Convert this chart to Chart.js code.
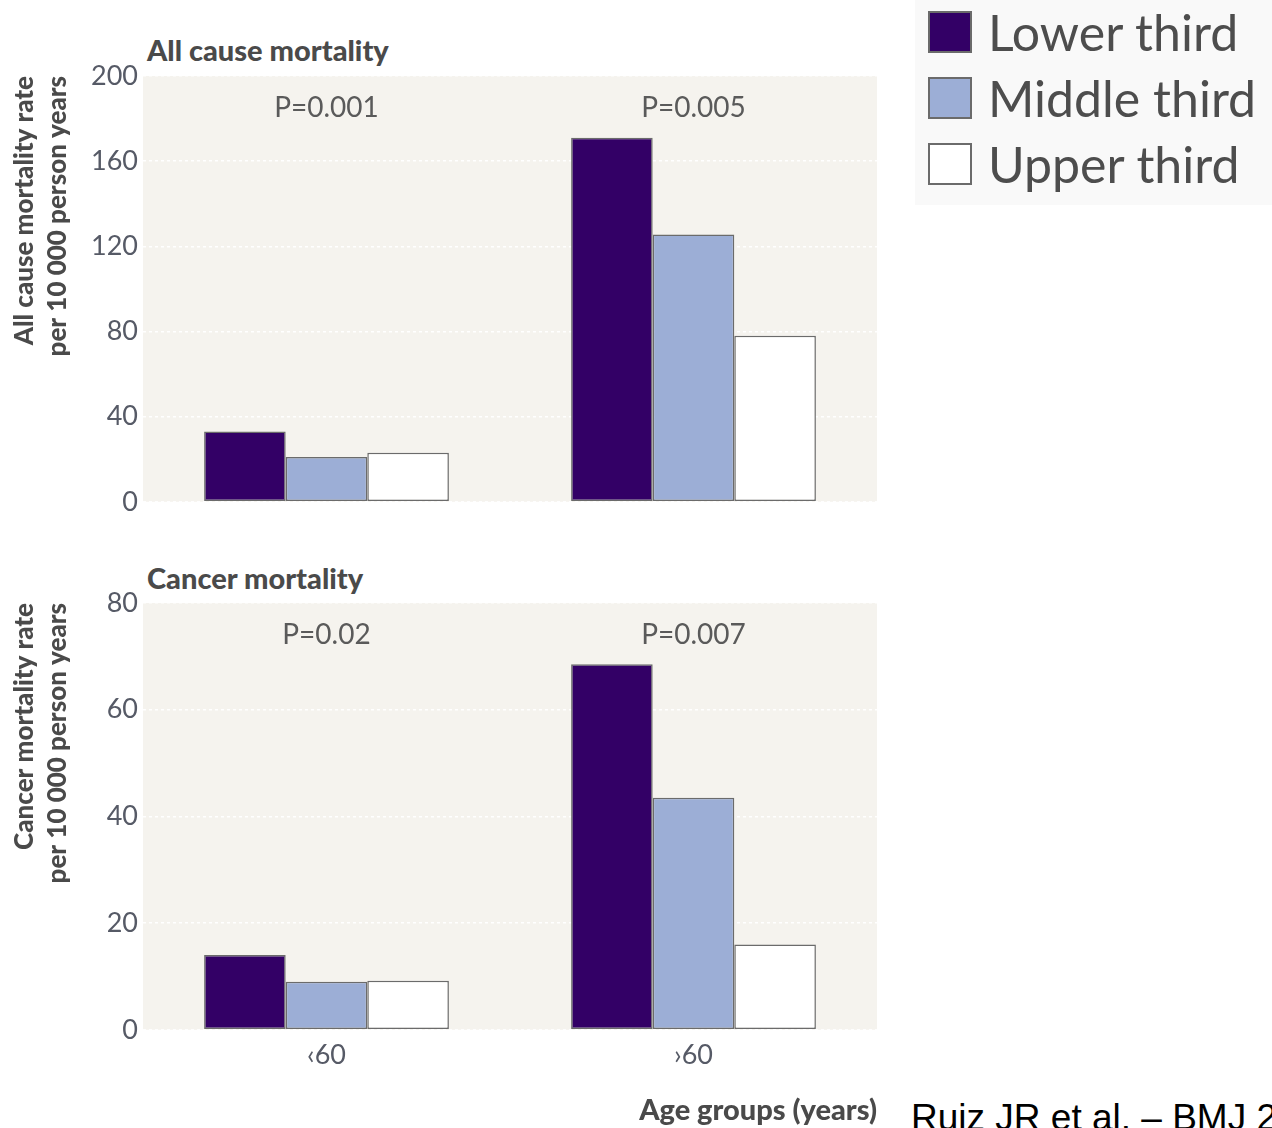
<!DOCTYPE html>
<html>
<head>
<meta charset="utf-8">
<script src="https://cdn.jsdelivr.net/npm/chart.js@4.4.1/dist/chart.umd.min.js"></script>
<style>
  html,body{margin:0;padding:0;background:#fff;}
  body{width:1272px;height:1128px;position:relative;overflow:hidden;font-family:Lato,"Open Sans",sans-serif;}
  .box{position:absolute;}
  .ptitle{position:absolute;left:147px;font-weight:900;font-size:29px;line-height:34px;color:#4a4a4a;white-space:nowrap;}
  #legend{position:absolute;left:915px;top:0;width:357px;height:205px;background:#f9f9f9;}
  #legend .row{position:absolute;left:13px;height:48px;display:flex;align-items:center;font-size:50px;color:#4d4d4d;white-space:nowrap;}
  #legend .sw{width:44px;height:42px;border:2.5px solid #6b6b6b;margin-right:16px;box-sizing:border-box;}
  #src{position:absolute;left:911px;top:1099px;font-family:"Liberation Sans",Arial,sans-serif;font-size:37px;line-height:37px;color:#000;white-space:nowrap;}
</style>
</head>
<body>
<div class="ptitle" style="top:33px">All cause mortality</div>
<div class="ptitle" style="top:561px">Cancer mortality</div>
<div class="box" style="left:0;top:520px;width:900px;height:608px"><canvas id="bottom"></canvas></div>
<div class="box" style="left:0;top:0;width:900px;height:523px"><canvas id="top"></canvas></div>
<div id="legend"></div>
<div id="src">Ruiz JR et al. – BMJ 2008</div>
<script>
'use strict';
const categories=['‹60','›60'];
const seriesNames=['Lower third','Middle third','Upper third'];
const seriesColors=['#330066','#9caed6','#ffffff'];

const allCauseLower=[33,171];
const allCauseMiddle=[21,125.5];
const allCauseUpper=[23,78];
const allCauseP=['P=0.001','P=0.005'];

const cancerLower=[14,68.5];
const cancerMiddle=[9,43.5];
const cancerUpper=[9.2,16];
const cancerP=['P=0.02','P=0.007'];

Chart.defaults.font.family='Lato, "Open Sans", sans-serif';

const bgPlugin={
  id:'bg',
  beforeDraw(chart){
    const a=chart.chartArea, c=chart.ctx;
    c.save(); c.fillStyle='#f5f3ee'; c.fillRect(a.left,a.top,a.right-a.left,a.bottom-a.top); c.restore();
  }
};
const pPlugin={
  id:'pvals',
  afterDatasetsDraw(chart,args,opts){
    const c=chart.ctx, x=chart.scales.x, y=chart.scales.y;
    c.save();
    c.font='28px Lato, "Open Sans", sans-serif';
    c.fillStyle='#5a5a5a';
    c.textAlign='center'; c.textBaseline='middle';
    opts.labels.forEach((t,i)=>c.fillText(t,x.getPixelForValue(i),y.getPixelForValue(opts.at)));
    c.restore();
  }
};

function makeChart(id,lower,middle,upper,pvals,max,step,ytitle,bottomAxis,pad){
  const vals=[lower,middle,upper];
  return new Chart(document.getElementById(id),{
    type:'bar',
    data:{
      labels:categories,
      datasets:seriesNames.map((n,i)=>({
        label:n,
        data:vals[i],
        backgroundColor:seriesColors[i],
        borderColor:'#6b6b6b',
        borderWidth:1.5,
        borderSkipped:false,
        barPercentage:1,
        categoryPercentage:0.667
      }))
    },
    plugins:[bgPlugin,pPlugin],
    options:{
      responsive:true,
      maintainAspectRatio:false,
      animation:false,
      layout:{padding:pad},
      plugins:{
        legend:{display:false},
        tooltip:{enabled:false},
        pvals:{labels:pvals,at:max*0.925}
      },
      scales:{
        x:{
          display:bottomAxis,
          grid:{display:false,drawTicks:false},
          border:{display:false},
          ticks:{color:'#565a66',font:{size:27,lineHeight:1.2},padding:9},
          title:{display:bottomAxis,text:'Age groups (years)',align:'end',color:'#4a4a4a',font:{size:29,weight:900,lineHeight:1.2},padding:{top:13,bottom:0}}
        },
        y:{
          min:0,max:max,
          afterFit(s){s.width=143;},
          grid:{color:'rgba(255,255,255,0.95)',lineWidth:1.5,drawTicks:false},
          border:{display:false,dash:[3,3]},
          ticks:{stepSize:step,color:'#565a66',font:{size:27},padding:5},
          title:{display:true,text:ytitle,align:'end',color:'#4a4a4a',font:{size:26,weight:900,lineHeight:1.27},padding:{top:8,bottom:0}}
        }
      }
    }
  });
}

function build(){
  makeChart('top',allCauseLower,allCauseMiddle,allCauseUpper,allCauseP,200,40,
    ['All cause mortality rate','per 10 000 person years'],false,{top:76,bottom:11,right:23});
  makeChart('bottom',cancerLower,cancerMiddle,cancerUpper,cancerP,80,20,
    ['Cancer mortality rate','per 10 000 person years'],true,{top:83,bottom:0,right:23});
}

const lg=document.getElementById('legend');
seriesNames.forEach((n,i)=>{
  const r=document.createElement('div');
  r.className='row';
  r.style.top=(8+i*66)+'px';
  r.innerHTML='<span class="sw" style="background:'+seriesColors[i]+'"></span>'+n;
  lg.appendChild(r);
});

Promise.all([
  document.fonts.load('900 26px Lato'),
  document.fonts.load('bold 26px Lato'),
  document.fonts.load('27px Lato')
]).catch(()=>{}).then(build);
</script>
</body>
</html>
